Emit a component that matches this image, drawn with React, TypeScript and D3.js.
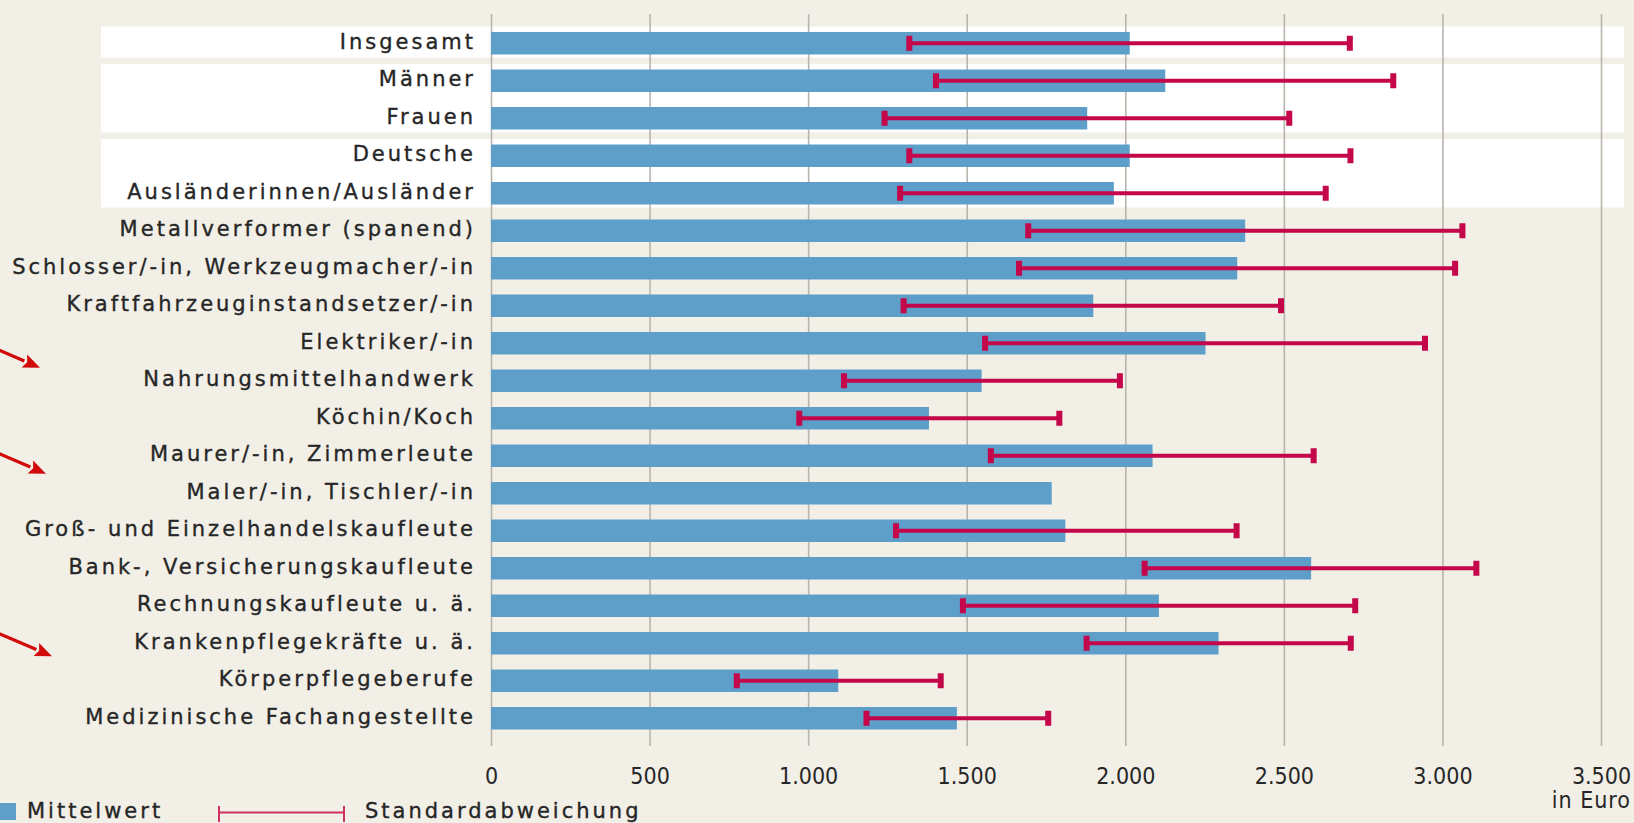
import { useEffect, useRef } from "react";
import * as d3 from "d3";

const WIDTH = 1634;
const HEIGHT = 823;
const X0 = 491;
const X1 = 1601;
const GRID_TOP = 14;
const GRID_BOTTOM = 746;
const ROW_TOP = 24.5;
const ROW_BOTTOM = 737;

const BG = "#f2efe7";
const BAR = "#5e9fc9";
const ERR = "#c4064a";
const GRID = "#b8b5ad";
const TEXT = "#262626";
const LABEL_FONT = "'DejaVu Sans', sans-serif";
const TICK_FONT = "'DejaVu Sans Condensed', 'DejaVu Sans', sans-serif";

const CATEGORIES = [
  "Insgesamt",
  "Männer",
  "Frauen",
  "Deutsche",
  "Ausländerinnen/Ausländer",
  "Metallverformer (spanend)",
  "Schlosser/-in, Werkzeugmacher/-in",
  "Kraftfahrzeuginstandsetzer/-in",
  "Elektriker/-in",
  "Nahrungsmittelhandwerk",
  "Köchin/Koch",
  "Maurer/-in, Zimmerleute",
  "Maler/-in, Tischler/-in",
  "Groß- und Einzelhandelskaufleute",
  "Bank-, Versicherungskaufleute",
  "Rechnungskaufleute u. ä.",
  "Krankenpflegekräfte u. ä.",
  "Körperpflegeberufe",
  "Medizinische Fachangestellte",
];

// Mittelwert (Euro)
const MEANS = [
  2014, 2126, 1880, 2014, 1964, 2378, 2353, 1899, 2253, 1547, 1381, 2086, 1768,
  1811, 2586, 2106, 2294, 1095, 1469,
];

// Standardabweichung: lower / upper end of the whisker
const SD_LOW: (number | null)[] = [
  1319, 1403, 1241, 1319, 1290, 1694, 1665, 1301, 1558, 1113, 972, 1576, null,
  1277, 2061, 1488, 1878, 775, 1184,
];
const SD_HIGH: (number | null)[] = [
  2708, 2845, 2517, 2710, 2632, 3063, 3040, 2491, 2945, 1983, 1792, 2594, null,
  2351, 3107, 2725, 2711, 1418, 1757,
];

const TICKS = [0, 500, 1000, 1500, 2000, 2500, 3000, 3500];

// highlighted groups (white bands)
const GROUPS = [
  ["Insgesamt"],
  ["Männer", "Frauen"],
  ["Deutsche", "Ausländerinnen/Ausländer"],
];

// red annotation arrows: row they point at + vertical offset of the tip
const ARROWS = [
  { row: "Nahrungsmittelhandwerk", dy: -13, tipX: 40 },
  { row: "Maurer/-in, Zimmerleute", dy: 18, tipX: 46 },
  { row: "Krankenpflegekräfte u. ä.", dy: 13, tipX: 52 },
];

function styleLabel(sel: d3.Selection<any, any, any, any>) {
  sel
    .attr("fill", TEXT)
    .attr("stroke", TEXT)
    .attr("stroke-width", 0.35)
    .style("font-family", LABEL_FONT)
    .style("font-size", "21px")
    .style("letter-spacing", "3px");
}

export default function App() {
  const svgRef = useRef<SVGSVGElement>(null);

  useEffect(() => {
    if (!svgRef.current) return;
    const svg = d3.select(svgRef.current);
    svg.selectAll("*").remove();

    const x = d3.scaleLinear().domain([0, 3500]).range([X0, X1]);
    const y = d3
      .scaleBand<string>()
      .domain(CATEGORIES)
      .range([ROW_TOP, ROW_BOTTOM])
      .paddingInner(0.4)
      .paddingOuter(0.2);
    const step = y.step();
    const bw = y.bandwidth();
    const slotTop = (c: string) => (y(c) ?? 0) - step * 0.2;

    svg.append("rect").attr("width", WIDTH).attr("height", HEIGHT).attr("fill", BG);

    // white bands behind the overview rows
    svg
      .append("g")
      .selectAll("rect")
      .data(GROUPS)
      .join("rect")
      .attr("x", 101)
      .attr("width", 1624 - 101)
      .attr("y", (g) => slotTop(g[0]) + 2)
      .attr("height", (g) => slotTop(g[g.length - 1]) + step - 4.5 - (slotTop(g[0]) + 2))
      .attr("fill", "#ffffff");

    // grid + tick labels
    const axis = svg
      .append("g")
      .attr("transform", `translate(0,${GRID_BOTTOM})`)
      .call(
        d3
          .axisBottom(x)
          .tickValues(TICKS)
          .tickSize(-(GRID_BOTTOM - GRID_TOP))
          .tickPadding(22)
          .tickFormat((d) => d3.format(",")(d as number).replace(/,/g, "."))
      );
    axis.select(".domain").remove();
    axis.selectAll(".tick line").attr("stroke", GRID).attr("stroke-width", 1.6);
    axis
      .selectAll(".tick text")
      .attr("fill", TEXT)
      .style("font-family", TICK_FONT)
      .style("font-stretch", "condensed")
      .style("font-size", "23px");

    svg
      .append("text")
      .attr("x", 1631)
      .attr("y", 808)
      .attr("text-anchor", "end")
      .attr("fill", TEXT)
      .style("font-family", TICK_FONT)
      .style("font-stretch", "condensed")
      .style("font-size", "23px")
      .style("letter-spacing", "1px")
      .text("in Euro");

    // bars
    svg
      .append("g")
      .selectAll("rect")
      .data(CATEGORIES)
      .join("rect")
      .attr("x", x(0))
      .attr("y", (c) => y(c) ?? 0)
      .attr("width", (_, i) => x(MEANS[i]) - x(0))
      .attr("height", bw)
      .attr("fill", BAR);

    // whiskers
    const err = svg.append("g");
    CATEGORIES.forEach((c, i) => {
      const lo = SD_LOW[i];
      const hi = SD_HIGH[i];
      if (lo == null || hi == null) return;
      const cy = (y(c) ?? 0) + bw / 2;
      err
        .append("line")
        .attr("x1", x(lo))
        .attr("x2", x(hi))
        .attr("y1", cy)
        .attr("y2", cy)
        .attr("stroke", ERR)
        .attr("stroke-width", 4);
      [lo, hi].forEach((v) =>
        err
          .append("rect")
          .attr("x", x(v) - 3)
          .attr("y", cy - 7.5)
          .attr("width", 6)
          .attr("height", 15)
          .attr("fill", ERR)
      );
    });

    // category labels
    svg
      .append("g")
      .selectAll("text")
      .data(CATEGORIES)
      .join("text")
      .attr("x", 476)
      .attr("y", (c) => (y(c) ?? 0) + bw / 2 + 5.6)
      .attr("text-anchor", "end")
      .call(styleLabel)
      .text((c) => c);

    // annotation arrows
    const arrows = svg.append("g");
    ARROWS.forEach((a) => {
      const ty = (y(a.row) ?? 0) + bw / 2 + a.dy;
      const sx = -10;
      const sy = ty - (a.tipX - sx) * 0.43;
      const ang = Math.atan2(ty - sy, a.tipX - sx);
      const L = 17;
      const W = 7;
      const bx = a.tipX - L * Math.cos(ang);
      const by = ty - L * Math.sin(ang);
      arrows
        .append("line")
        .attr("x1", sx)
        .attr("y1", sy)
        .attr("x2", bx)
        .attr("y2", by)
        .attr("stroke", "#d10a0a")
        .attr("stroke-width", 3.2);
      arrows
        .append("path")
        .attr(
          "d",
          `M${a.tipX},${ty}L${bx - W * Math.sin(ang)},${by + W * Math.cos(ang)}L${bx + 3 * Math.cos(ang)},${by + 3 * Math.sin(ang)}L${bx + W * Math.sin(ang)},${by - W * Math.cos(ang)}Z`
        )
        .attr("fill", "#d10a0a");
    });

    // legend
    const lg = svg.append("g");
    lg.append("rect").attr("x", 0).attr("y", 803).attr("width", 16).attr("height", 17).attr("fill", BAR);
    lg.append("text").attr("x", 27).attr("y", 817.5).call(styleLabel).text("Mittelwert");
    lg.append("line").attr("x1", 219).attr("x2", 344).attr("y1", 812.5).attr("y2", 812.5)
      .attr("stroke", "#d0325f").attr("stroke-width", 2);
    [219, 344].forEach((lx) =>
      lg.append("line").attr("x1", lx).attr("x2", lx).attr("y1", 806).attr("y2", 822)
        .attr("stroke", "#d0325f").attr("stroke-width", 2)
    );
    lg.append("text").attr("x", 365).attr("y", 817.5).call(styleLabel).text("Standardabweichung");
  }, []);

  return (
    <div style={{ position: "fixed", left: 0, top: 0, width: WIDTH, height: HEIGHT, overflow: "hidden" }}>
      <svg ref={svgRef} width={WIDTH} height={HEIGHT} style={{ display: "block" }} />
    </div>
  );
}
